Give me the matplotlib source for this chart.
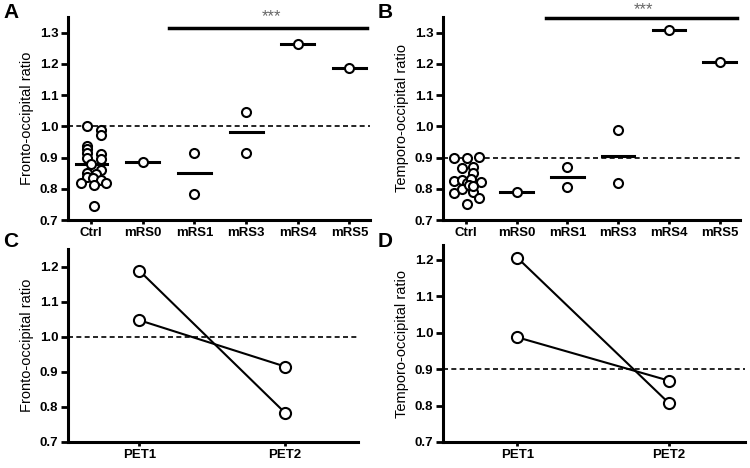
import numpy as np
import matplotlib
matplotlib.use('Agg')
import matplotlib.pyplot as plt

plt.rcParams['font.family'] = ['Liberation Sans', 'DejaVu Sans']

# 데이터
groups = ['Ctrl', 'mRS0', 'mRS1', 'mRS3', 'mRS4', 'mRS5']

ctrl_fo = [1.000, 0.987, 0.973, 0.936, 0.926, 0.913, 0.900, 0.911, 0.894, 0.879,
           0.860, 0.849, 0.847, 0.838, 0.833, 0.828, 0.817, 0.812, 0.817, 0.746]
pat_fo = [[0.887], [0.915, 0.783], [1.047, 0.915], [1.265], [1.188]]

ctrl_to = [0.897, 0.897, 0.902, 0.865, 0.870, 0.849, 0.825, 0.828, 0.819, 0.831,
           0.822, 0.785, 0.798, 0.790, 0.812, 0.769, 0.751, 0.808]
pat_to = [[0.790], [0.870, 0.806], [0.987, 0.820], [1.307], [1.205]]

pet_labels = ['PET1', 'PET2']
pet_fo = [[1.188, 0.783], [1.047, 0.915]]
pet_to = [[1.205, 0.806], [0.987, 0.868]]

# 흩뿌림 위치 (jitter)
ctrl_fo_dx = [-0.08, 0.18, 0.18, -0.08, -0.08, -0.08, -0.08, 0.18, 0.18, -0.01,
              0.18, -0.08, 0.10, -0.08, 0.03, 0.18, -0.20, 0.05, 0.29, 0.06]
ctrl_to_dx = [-0.23, 0.02, 0.26, -0.08, 0.14, 0.14, -0.23, -0.08, 0.02, 0.10,
              0.29, -0.23, -0.08, 0.14, 0.07, 0.26, 0.02, 0.14]

W, H = 750, 468
fig = plt.figure(figsize=(W / 100, H / 100), dpi=100)


def box(l, t, r, b):
    return [l / W, 1 - b / H, (r - l) / W, (b - t) / H]


def style(ax, ylabel):
    for s in ['top', 'right']:
        ax.spines[s].set_visible(False)
    for s in ['left', 'bottom']:
        ax.spines[s].set_linewidth(2.2)
    ax.tick_params(axis='y', width=2, length=5, labelsize=9.5, pad=2)
    ax.tick_params(axis='x', width=2, length=3, labelsize=9.5, pad=2)
    for lab in ax.get_xticklabels() + ax.get_yticklabels():
        lab.set_fontweight('bold')
    ax.set_ylabel(ylabel, fontsize=10.5, labelpad=4)


mk = dict(marker='o', ms=6.5, mfc='white', mec='black', mew=1.5, ls='none', zorder=4)


def scatter_panel(ax, ctrl, ctrl_dx, pats, ylabel, ref, bar_y, bar_x0, star_y):
    ax.plot(np.array(ctrl_dx), ctrl, **mk)
    ax.plot([-0.3, 0.3], [np.mean(ctrl)] * 2, color='black', lw=2.2, zorder=3)
    for i, vals in enumerate(pats):
        x = i + 1
        ax.plot(np.full(len(vals), x), vals, **mk)
        ax.plot([x - 0.32, x + 0.32], [np.mean(vals)] * 2, color='black', lw=2.2, zorder=3)
    ax.axhline(ref, color='black', lw=1.2, ls=(0, (3, 2)), zorder=2)
    ax.plot([bar_x0, 5.35], [bar_y, bar_y], color='black', lw=2.5, clip_on=False)
    ax.text(3.5, star_y, '***', ha='center', va='center', fontsize=12, color='#666666')
    ax.set_xlim(-0.45, 5.4)
    ax.set_ylim(0.7, 1.35)
    ax.set_xticks(range(len(groups)))
    ax.set_xticklabels(groups)
    ax.set_yticks(np.arange(0.7, 1.31, 0.1))
    ax.set_yticklabels(['%.1f' % v for v in np.arange(0.7, 1.31, 0.1)])
    style(ax, ylabel)


def pet_panel(ax, pairs, ylabel, ref, ytop):
    for p in pairs:
        ax.plot([0, 1], p, color='black', lw=1.5, marker='o', ms=8,
                mfc='white', mec='black', mew=1.5, zorder=4)
    ax.axhline(ref, color='black', lw=1.2, ls=(0, (3, 2)), zorder=2)
    ax.set_xlim(-0.49, 1.5)
    ax.set_ylim(0.7, ytop)
    ax.set_xticks([0, 1])
    ax.set_xticklabels(pet_labels)
    ax.set_yticks(np.arange(0.7, 1.21, 0.1))
    ax.set_yticklabels(['%.1f' % v for v in np.arange(0.7, 1.21, 0.1)])
    style(ax, ylabel)


axA = fig.add_axes(box(68, 17, 370, 220))
scatter_panel(axA, ctrl_fo, ctrl_fo_dx, pat_fo, 'Fronto-occipital ratio', 1.0, 1.314, 1.5, 1.35)
axB = fig.add_axes(box(443, 17, 740, 220))
scatter_panel(axB, ctrl_to, ctrl_to_dx, pat_to, 'Temporo-occipital ratio', 0.9, 1.347, 1.57, 1.375)
axC = fig.add_axes(box(68, 249, 358, 442))
pet_panel(axC, pet_fo, 'Fronto-occipital ratio', 1.0, 1.25)
axD = fig.add_axes(box(443, 245, 745, 442))
pet_panel(axD, pet_to, 'Temporo-occipital ratio', 0.9, 1.24)

for letter, x, y in [('A', 3, 3), ('B', 378, 3), ('C', 3, 232), ('D', 378, 232)]:
    fig.text(x / W, 1 - y / H, letter, fontsize=15, fontweight='bold', va='top', ha='left')

fig.savefig('out.png', dpi=100)
